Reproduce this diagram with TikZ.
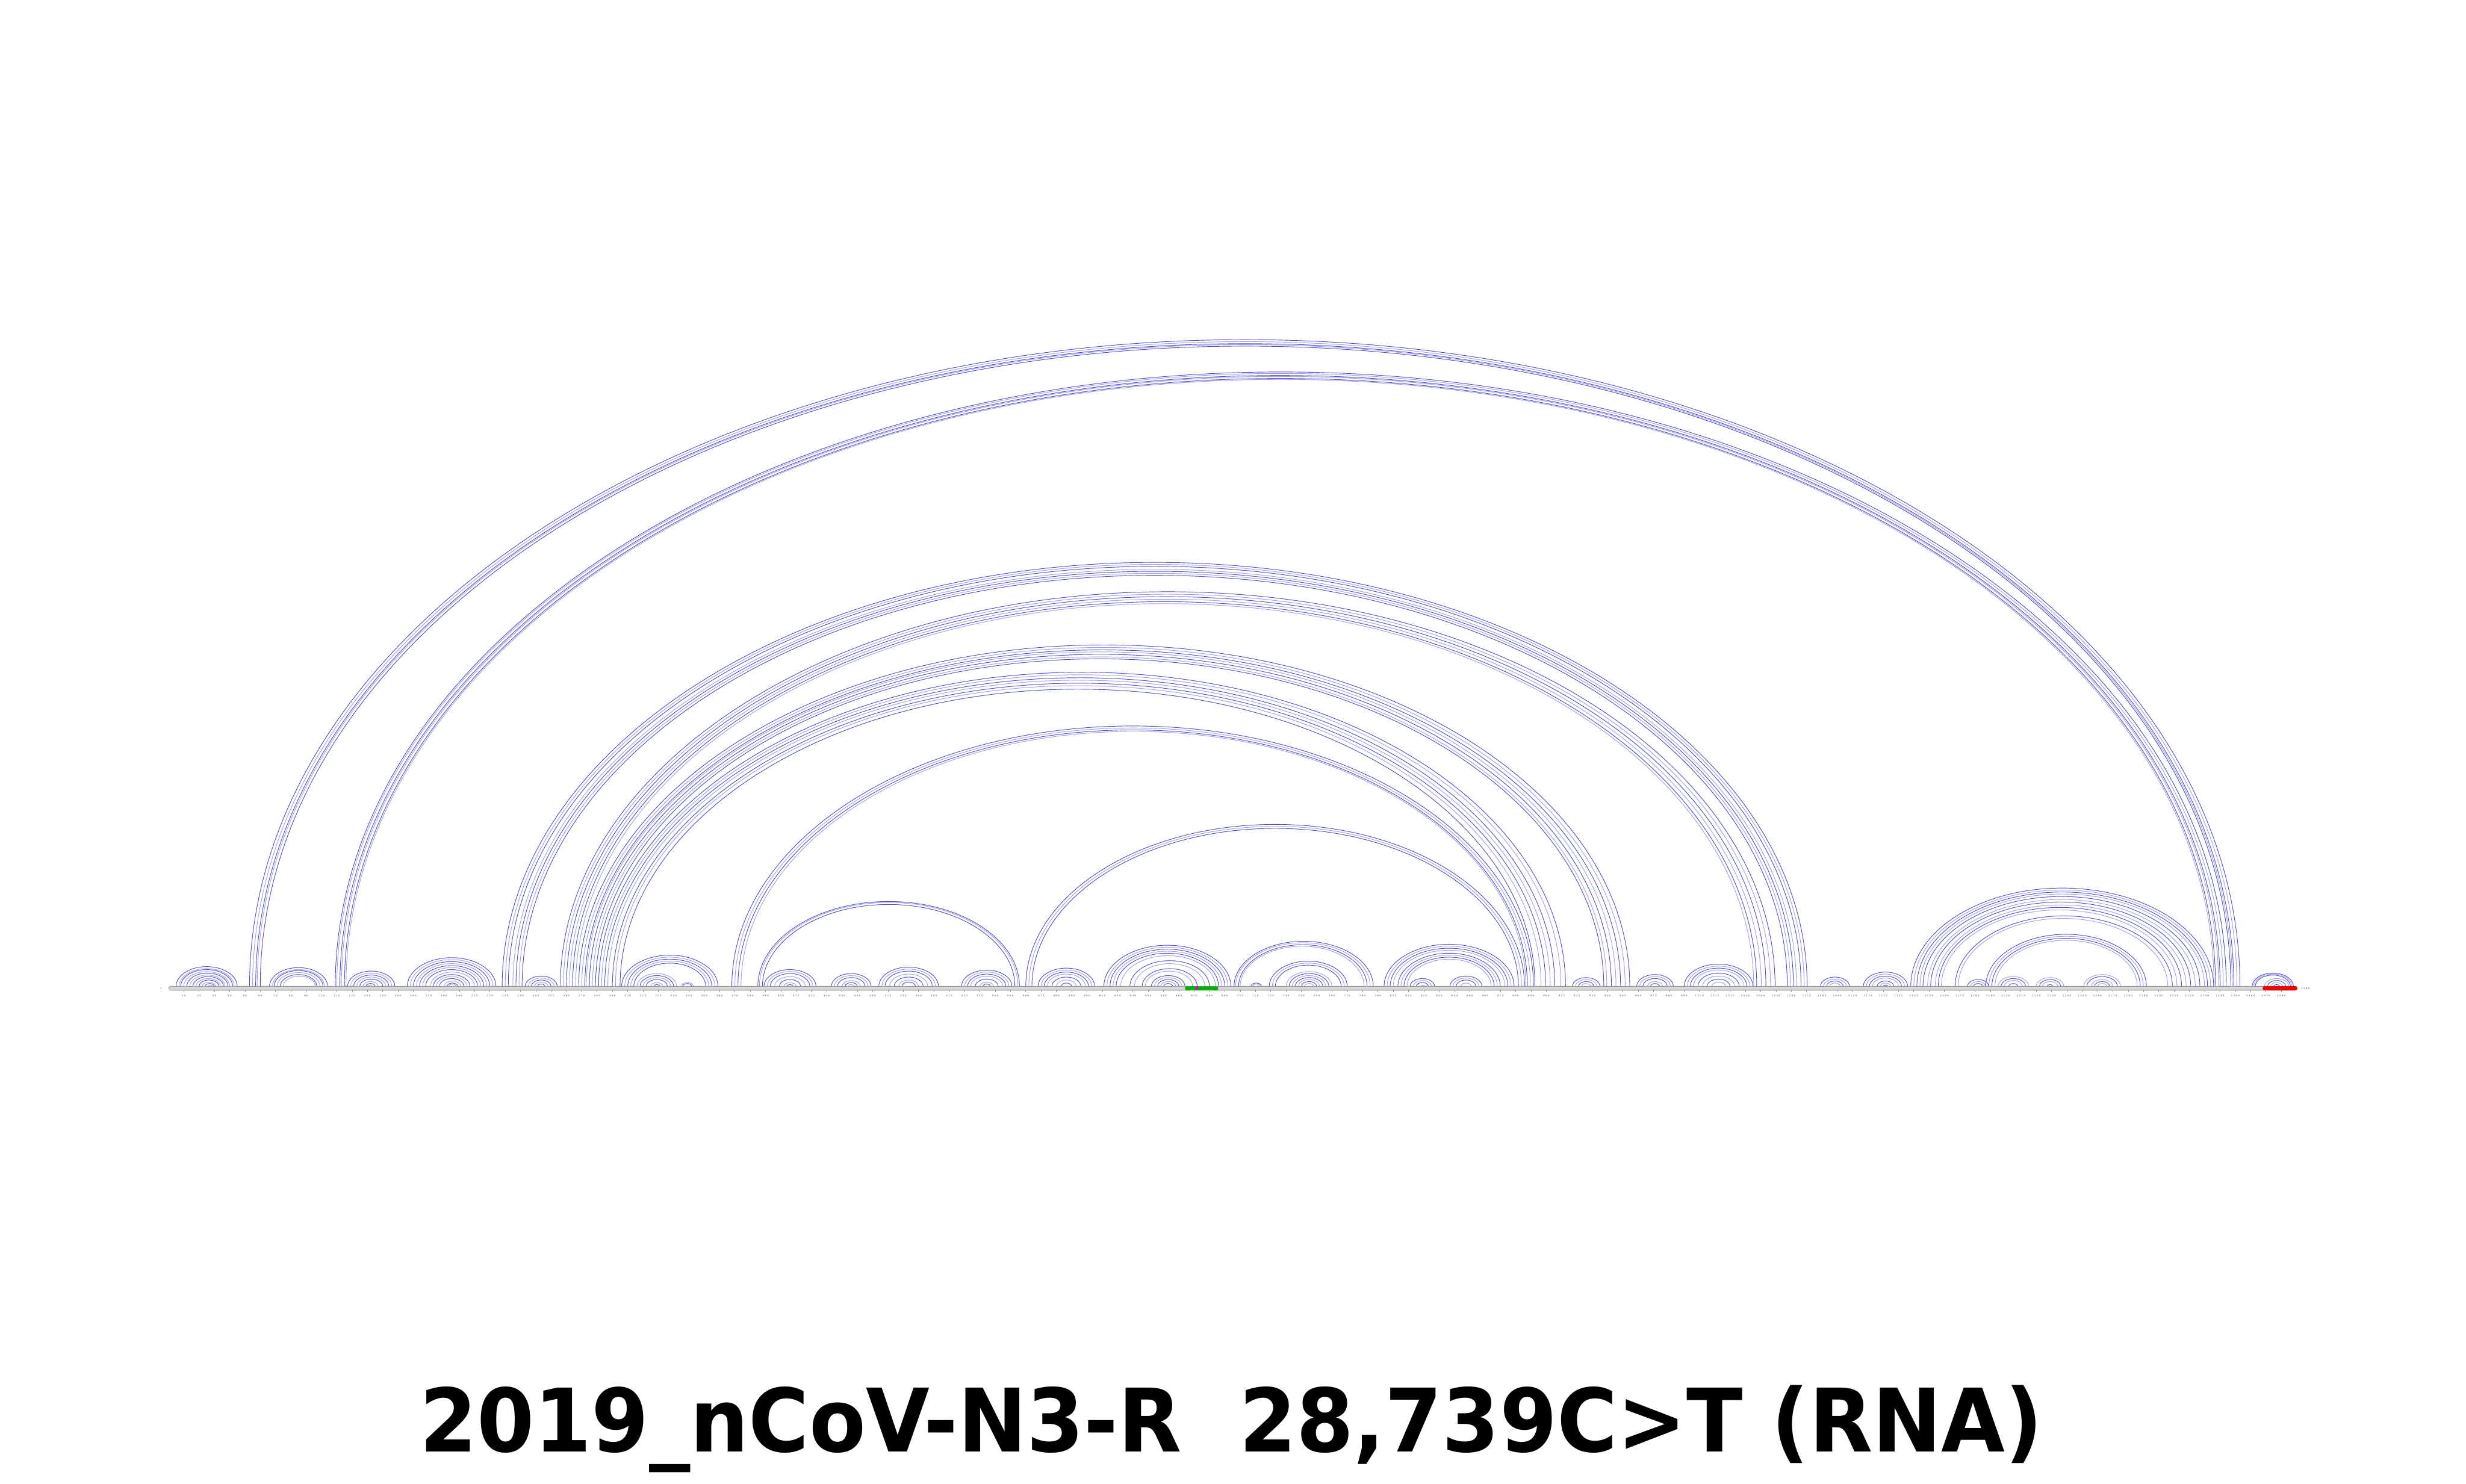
\documentclass[tikz,border=0pt]{standalone}
\usepackage{fontspec}
\setmainfont{DejaVu Sans}
\newfontfamily\tickfont{DejaVu Sans}[LetterSpace=30]
\definecolor{arcdark}{RGB}{30,30,190}
\definecolor{arclight}{RGB}{105,105,232}
\definecolor{beadfill}{RGB}{214,214,214}
\definecolor{beadline}{RGB}{150,150,150}
\definecolor{hlgreen}{RGB}{0,175,0}
\definecolor{hlred}{RGB}{236,0,0}
\definecolor{hlmag}{RGB}{170,30,170}
\definecolor{ticktext}{RGB}{90,90,90}
\tikzset{
  arcd/.style={draw=arcdark, line width=0.2pt, opacity=0.8},
  arcl/.style={draw=arclight, line width=0.2pt, opacity=0.65},
  band/.style={fill=beadfill, draw=beadline, line width=0.2pt, rounded corners=0.024cm},
  tickmark/.style={draw=beadline, line width=0.15pt},
  ticklabel/.style={font=\tickfont\fontsize{0.9pt}{1.1pt}\selectfont, text=ticktext, inner sep=0pt},
  endlabel/.style={font=\tickfont\fontsize{0.9pt}{1.1pt}\selectfont, text=ticktext, inner sep=0pt},
}
% arc between nucleotides #1 and #2, style #3
\newcommand\pairarc[3]{%
  \pgfmathsetmacro\arcxa{(107.05+0.9733*(#1))*0.02}%
  \pgfmathsetmacro\arcrx{((#2)-(#1))*0.9733*0.01}%
  \pgfmathsetmacro\arcry{0.65*\arcrx}%
  \draw[#3] (\arcxa cm,6.326cm) arc[start angle=180,end angle=0,x radius=\arcrx cm,y radius=\arcry cm];%
}
\newcommand\arcset[1]{\foreach \ii/\jj [count=\kk] in {#1}{%
  \pgfmathtruncatemacro\arcmod{mod(\kk,2)}%
  \ifnum\arcmod=0 \pairarc{\ii}{\jj}{arcl}\else\pairarc{\ii}{\jj}{arcd}\fi}}
\begin{document}
\begin{tikzpicture}
\useasboundingbox (0,0) rectangle (31.36,18.872);
\fill[white] (0,0) rectangle (31.36,18.872);
% ---- long-range arcs ----
\arcset{53/1354,55/1352,57/1350,58/1349,60/1348}
\arcset{109/1345,110/1343,112/1341,113/1340,115/1338,116/1337}
\arcset{218/1071,220/1069,222/1067,225/1064,227/1062,229/1060,231/1058}
\arcset{256/1050,258/1047,260/1044,262/1041,264/1038,266/1036}
\arcset{268/955,270/952,272/949,273/946,275/943,277/940,279/938}
\arcset{281/913,283/910,285/906,287/903,290/900,292/897,295/893}
\arcset{368/892,370/890,372/888,374/887}
\arcset{560/886,562/884,564/882}
\arcset{385/556,386/555,388/553}
% ---- local clusters ----
\arcset{5/45,7/43,8/42,10/40,12/39,14/37,16/36,18/34,20/33,22/31,24/30,26/29}
\arcset{66/104,68/102,69/101,71/99,73/97,75/96}
\arcset{117/148,119/146,121/144,123/142,125/140,127/137,129/135,130/133}
\arcset{156/214,158/212,160/210,162/208,164/206,166/204,168/202,171/200,173/197,175/195,177/193,180/191,182/189,183/188}
\arcset{233/254,235/252,237/250,239/248,241/246}
\arcset{296/359,298/357,300/355,302/353,304/351,306/332,308/330,310/328,312/326,315/323,317/321,335/343,336/342}
\arcset{389/423,391/421,393/419,396/416,399/413,402/410,404/408}
\arcset{433/459,435/457,437/455,440/452,442/450,444/448}
\arcset{464/503,466/501,468/499,471/496,474/493,477/490,479/488}
\arcset{518/551,520/549,522/547,524/545,527/542,530/539,532/537}
\arcset{568/605,570/603,572/601,574/599,577/596,580/593,583/590}
\arcset{611/694,613/692,615/690,617/688,619/686,622/684,628/680,631/677,636/672,638/669,642/664,644/662,646/660,648/658,650/656}
\arcset{696/787,697/785,699/783,700/781,707/714,708/713,719/770,721/768,723/766,730/760,732/758,734/756,736/754,738/752,740/750,742/748}
\arcset{794/879,796/877,798/875,800/873,803/870,805/868,807/866,809/864,811/827,813/825,815/823,818/821,837/858,839/856,841/854,844/851}
\arcset{917/935,919/933,921/931,923/929}
\arcset{959/983,961/981,963/979,966/976,968/974}
\arcset{990/1035,992/1033,994/1031,996/1029,999/1026,1002/1023,1005/1020,1008/1017}
\arcset{1079/1098,1081/1096,1083/1094,1085/1092}
\arcset{1107/1136,1109/1134,1111/1132,1113/1130,1116/1127,1118/1125,1120/1123}
\arcset{1138/1336,1140/1334,1142/1332,1144/1330,1146/1327,1149/1324,1151/1321,1154/1318,1156/1315,1158/1312,1167/1309,1169/1306,1187/1292,1189/1290,1191/1288,1193/1286}
\arcset{1175/1189,1177/1187,1179/1185,1195/1215,1197/1213,1199/1211,1202/1208,1220/1238,1222/1236,1224/1234,1227/1231,1251/1275,1253/1273,1256/1270,1258/1268,1260/1266}
\arcset{1361/1388,1362/1387,1363/1386,1369/1385,1371/1383,1373/1381,1375/1379}
% ---- sequence band ----
\path[band] (2.146,6.278) rectangle (29.208,6.328);
\path[fill=hlgreen, rounded corners=0.024cm] (15.068,6.278) rectangle (15.492,6.328);
\path[fill=hlmag] (15.206,6.278) rectangle (15.232,6.328);
\path[fill=hlred, rounded corners=0.024cm] (28.774,6.276) rectangle (29.214,6.330);
% ---- ticks and labels ----
\foreach \n in {10,20,...,1380}{%
  \pgfmathsetmacro\tx{(107.05+0.9733*\n)*0.02}%
  \draw[tickmark] (\tx,6.278) -- (\tx,6.252);
  \node[ticklabel] (lbl\n) at (\tx,6.208) {\n};
}
\node[endlabel, anchor=east] (startlbl) at (2.10,6.303) {1 –};
\node[endlabel, anchor=west] (endlbl) at (29.22,6.303) {– 1389};
% ---- title ----
\node[anchor=base, inner sep=0pt] (title) at (15.658,0.412)
  {\resizebox{20.64cm}{0.846cm}{\bfseries 2019\_nCoV-N3-R\ \ 28,739C>T (RNA)}};
\end{tikzpicture}
\end{document}
